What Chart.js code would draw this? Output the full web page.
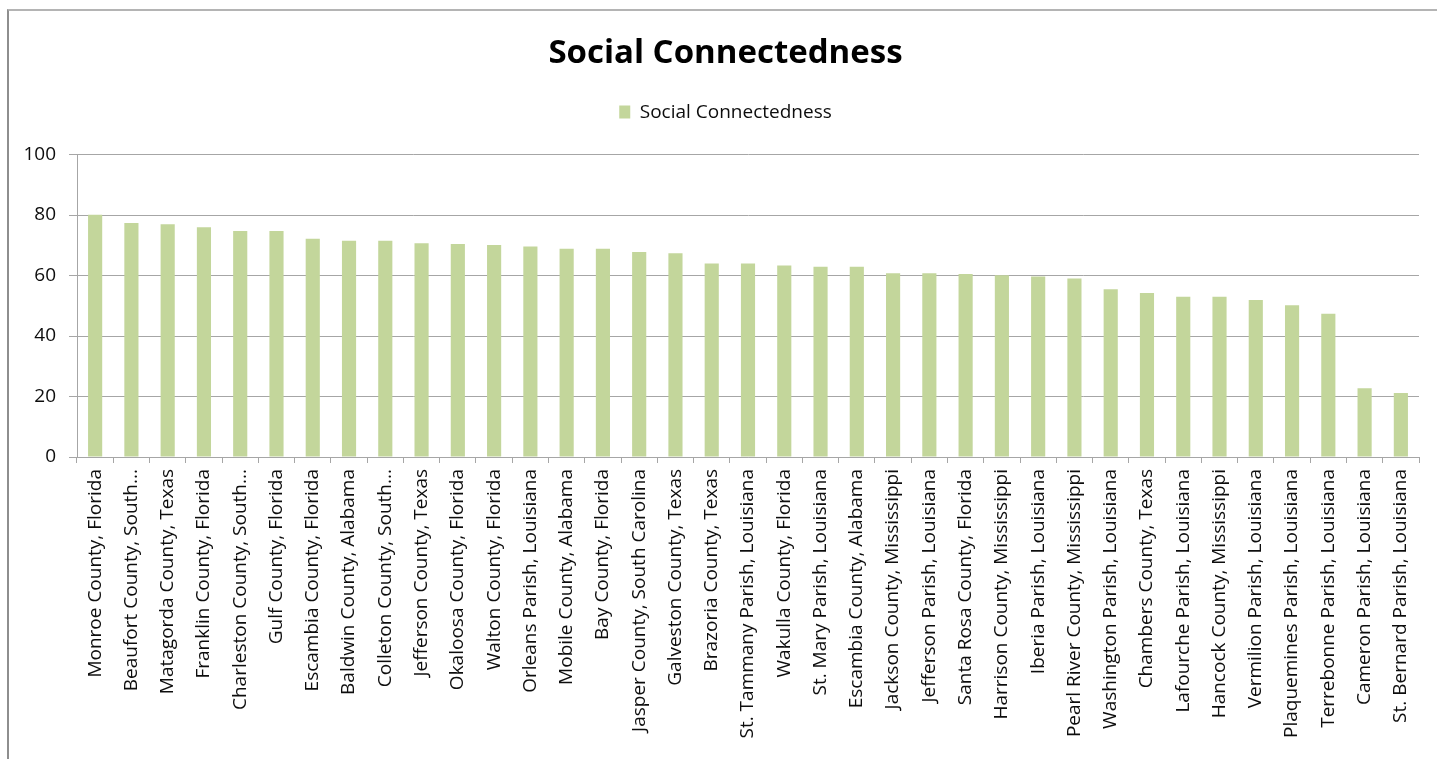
<!DOCTYPE html>
<html>
<head>
<meta charset="utf-8">
<title>Social Connectedness</title>
<script src="https://cdn.jsdelivr.net/npm/chart.js@4.4.1/dist/chart.umd.min.js"></script>
<style>
  html, body { margin: 0; padding: 0; background: #fff; overflow: hidden; }
  #frame {
    position: absolute; left: 7px; top: 9px; width: 1500px; height: 800px;
    border-left: 2px solid #8e8e8e; border-top: 2px solid #b4b4b4;
  }
  #wrap { position: absolute; left: 0; top: 0; width: 1459px; height: 759px; }
</style>
</head>
<body>
<div id="frame"></div>
<div id="wrap"><canvas id="chart"></canvas></div>
<script>
// Données
const counties = [
    'Monroe County, Florida', 'Beaufort County, South...', 'Matagorda County, Texas',
    'Franklin County, Florida', 'Charleston County, South...', 'Gulf County, Florida',
    'Escambia County, Florida', 'Baldwin County, Alabama', 'Colleton County, South...',
    'Jefferson County, Texas', 'Okaloosa County, Florida', 'Walton County, Florida',
    'Orleans Parish, Louisiana', 'Mobile County, Alabama', 'Bay County, Florida',
    'Jasper County, South Carolina', 'Galveston County, Texas', 'Brazoria County, Texas',
    'St. Tammany Parish, Louisiana', 'Wakulla County, Florida', 'St. Mary Parish, Louisiana',
    'Escambia County, Alabama', 'Jackson County, Mississippi', 'Jefferson Parish, Louisiana',
    'Santa Rosa County, Florida', 'Harrison County, Mississippi', 'Iberia Parish, Louisiana',
    'Pearl River County, Mississippi', 'Washington Parish, Louisiana', 'Chambers County, Texas',
    'Lafourche Parish, Louisiana', 'Hancock County, Mississippi', 'Vermilion Parish, Louisiana',
    'Plaquemines Parish, Louisiana', 'Terrebonne Parish, Louisiana', 'Cameron Parish, Louisiana',
    'St. Bernard Parish, Louisiana'
];
const connectedness = [
    80.1, 77.4, 77.0, 76.0, 74.7, 74.7, 72.2, 71.5, 71.5, 70.7, 70.4, 70.1,
    69.6, 68.9, 68.9, 67.8, 67.4, 64.0, 64.0, 63.3, 62.9, 62.9, 60.8, 60.8,
    60.5, 60.1, 59.7, 59.0, 55.5, 54.2, 53.0, 53.0, 51.9, 50.2, 47.4, 22.7, 21.2
];
const yTicks = [0, 20, 40, 60, 80, 100];

const font = "'Open Sans', 'DejaVu Sans', sans-serif";
const gridColor = '#a6a6a6';

// Espace sous la légende
const legendGap = {
    id: 'legendGap',
    beforeInit(chart) {
        const fit = chart.legend.fit;
        chart.legend.fit = function () {
            fit.bind(chart.legend)();
            this.height += 23;
        };
    }
};

const ctx = document.getElementById('chart');
new Chart(ctx, {
    type: 'bar',
    data: {
        labels: counties,
        datasets: [{
            label: 'Social Connectedness',
            data: connectedness,
            backgroundColor: '#c3d69b',
            borderWidth: 0,
            categoryPercentage: 1,
            barPercentage: 0.39
        }]
    },
    options: {
        responsive: true,
        maintainAspectRatio: false,
        animation: false,
        layout: { padding: { left: 10, right: 18, top: 10, bottom: 0 } },
        plugins: {
            title: {
                display: true,
                text: 'Social Connectedness',
                color: '#000',
                font: { family: font, size: 33, weight: 'bold' },
                padding: { top: 24, bottom: 19 }
            },
            legend: {
                labels: {
                    color: '#0d0d0d',
                    font: { family: font, size: 19 },
                    boxWidth: 11,
                    boxHeight: 13,
                    padding: 10
                }
            },
            tooltip: { enabled: false }
        },
        scales: {
            x: {
                grid: { drawOnChartArea: false, drawTicks: true, tickLength: 6, color: gridColor },
                border: { color: gridColor },
                ticks: {
                    autoSkip: false, maxRotation: 90, minRotation: 90,
                    color: '#0d0d0d', padding: 6,
                    font: { family: font, size: 19 }
                },
                afterFit: s => { s.height = 302; s.paddingRight = 40; }
            },
            y: {
                min: 0, max: 100,
                afterBuildTicks: s => { s.ticks = yTicks.map(v => ({ value: v })); },
                grid: { color: gridColor, tickLength: 8 },
                border: { color: gridColor },
                ticks: {
                    color: '#0d0d0d', padding: 13,
                    font: { family: font, size: 19 }
                },
                afterFit: s => { s.width = 67; }
            }
        }
    },
    plugins: [legendGap]
});
</script>
</body>
</html>
